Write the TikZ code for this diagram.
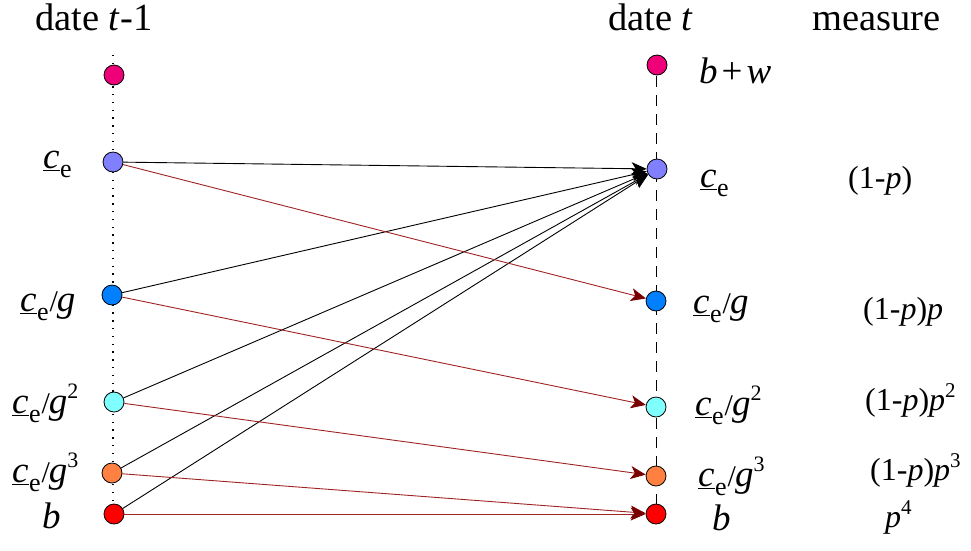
\documentclass[tikz,border=0pt]{standalone}
\usepackage{fontspec}
\IfFontExistsTF{LiberationSerif-Regular.ttf}{%
  \setmainfont{LiberationSerif}[Extension=.ttf,UprightFont=*-Regular,ItalicFont=*-Italic,BoldFont=*-Bold,BoldItalicFont=*-BoldItalic]}{%
  \setmainfont{Liberation Serif}}
\usepackage{graphicx}
\usetikzlibrary{arrows.meta}
\definecolor{cpink}{RGB}{238,0,120}
\definecolor{clav}{RGB}{128,128,255}
\definecolor{cblue}{RGB}{0,128,255}
\definecolor{ccyan}{RGB}{128,255,255}
\definecolor{corange}{RGB}{255,128,64}
\definecolor{cred}{RGB}{255,0,0}
\definecolor{darr}{RGB}{160,35,35}
\definecolor{darrhead}{RGB}{120,0,0}
\newcommand\cu{\underline{\textit{c}}\kern0.5pt\raisebox{-9pt}{\fontsize{26}{30}\selectfont e}}
\newcommand\sls{\kern1pt{\fontsize{30}{34}\selectfont /}\kern-1pt}
\newcommand\supx[1]{\raisebox{15pt}{\fontsize{22}{26}\selectfont #1}}
\newcommand\msupx[1]{\raisebox{13pt}{\fontsize{21}{25}\selectfont #1}}
\begin{document}
\begin{tikzpicture}[x=1pt,y=-1pt,
  dotn/.style={circle,draw=black,line width=0.8pt,minimum size=20pt,inner sep=0pt},
  head/.style={font=\fontsize{38.5}{44}\selectfont,inner sep=0pt,anchor=base west,text height=26pt,text depth=0pt},
  lab/.style={font=\fontsize{37}{42}\selectfont,inner sep=0pt,anchor=base west},
  meas/.style={font=\fontsize{32}{38}\selectfont,inner sep=0pt,anchor=base west},
  blk/.style={draw=black,line width=0.9pt,-{Stealth[length=15pt,width=13pt,inset=4pt]}},
  rda/.style={draw=darr,line width=0.9pt,-{Stealth[length=15pt,width=13pt,inset=4pt,color=darrhead]}},
  ldot/.style={line width=1.3pt,dash pattern=on 1.3pt off 6.5pt},
  rdash/.style={line width=1pt,dash pattern=on 11pt off 8pt}]
\useasboundingbox (0,0) rectangle (971,550);
% vertical guide lines
\coordinate (lt) at (113,55);
\coordinate (lb) at (113,504);
\coordinate (rt) at (656,76);
\coordinate (rb) at (656,504);
\draw[ldot] (lt) -- (lb);
\draw[rdash] (rt) -- (rb);
% headers
\node[head] (h1) at (35,30) {date \textit{t}-1};
\node[head] (h2) at (608,30) {date \textit{t}};
\node[head] (h3) at (812,30) {measure};
% left nodes
\node[dotn,fill=cpink]   (L0) at (114,75) {};
\node[dotn,fill=clav]    (L1) at (113,162) {};
\node[dotn,fill=cblue]   (L2) at (112,295) {};
\node[dotn,fill=ccyan]   (L3) at (114,402) {};
\node[dotn,fill=corange] (L4) at (112,473) {};
\node[dotn,fill=cred]    (L5) at (114,514) {};
% right nodes
\node[dotn,fill=cpink]   (R0) at (657,65) {};
\node[dotn,fill=clav]    (R1) at (657,169) {};
\node[dotn,fill=cblue]   (R2) at (656,301) {};
\node[dotn,fill=ccyan]   (R3) at (656,407) {};
\node[dotn,fill=corange] (R4) at (656,476) {};
\node[dotn,fill=cred]    (R5) at (656,514) {};
% left labels
\node[lab] (l1) at (43,168) {\cu};
\node[lab] (l2) at (20,311) {\cu\sls\textit{g}};
\node[lab] (l3) at (12,413) {\cu\sls\textit{g}\supx{2}};
\node[lab] (l4) at (12,482) {\cu\sls\textit{g}\supx{3}};
\node[lab] (l5) at (42,528) {\textit{b}};
% right labels
\node[lab] (r0) at (699,83) {\textit{b}\kern4pt+\kern4pt\textit{w}};
\node[lab] (r1) at (700,187) {\cu};
\node[lab] (r2) at (693,313) {\cu\sls\textit{g}};
\node[lab] (r3) at (695,415) {\cu\sls\textit{g}\supx{2}};
\node[lab] (r4) at (698,486) {\cu\sls\textit{g}\supx{3}};
\node[lab] (r5) at (712,530) {\textit{b}};
% measures
\node[meas] (m1) at (848,188) {(1-\textit{p})};
\node[meas] (m2) at (863,319) {(1-\textit{p})\textit{p}};
\node[meas] (m3) at (865,410) {(1-\textit{p})\textit{p}\msupx{2}};
\node[meas] (m4) at (870,480) {(1-\textit{p})\textit{p}\msupx{3}};
\node[meas] (m5) at (885,527) {\textit{p}\msupx{4}};
% black arrows to c_e
\draw[blk] (L1) -- (R1);
\draw[blk] (L2) -- (R1);
\draw[blk] (L3) -- (R1);
\draw[blk] (L4) -- (R1);
\draw[blk] (L5) -- (R1);
% red arrows
\draw[rda] (L1) -- (R2);
\draw[rda] (L2) -- (R3);
\draw[rda] (L3) -- (R4);
\draw[rda] (L4) -- (R5);
\draw[rda] (L5) -- (R5);
\end{tikzpicture}
\end{document}
